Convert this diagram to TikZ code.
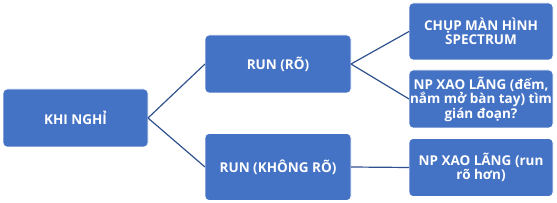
\documentclass[tikz,border=0pt]{standalone}
\usepackage{fontspec}
\setmainfont{Open Sans}
\begin{document}
\begin{tikzpicture}[x=1pt,y=1pt,
  box/.style={draw=white, line width=0.8pt, fill=boxblue, rounded corners=4pt, text=white,
    font=\bfseries\fontsize{13.5}{14.5}\selectfont, align=center, inner sep=0pt, outer sep=0pt},
  link/.style={draw=linkblue, line width=1.2pt}]
\definecolor{boxblue}{HTML}{4472C4}
\definecolor{linkblue}{HTML}{2F528F}
\useasboundingbox (0,0) rectangle (557,203);
\node[box, minimum width=145pt, minimum height=58pt] (a) at (75.5,85) {KHI NGHỈ};
\node[box, minimum width=146pt, minimum height=58pt] (b) at (278,139) {RUN (RÕ)};
\node[box, minimum width=146pt, minimum height=67pt] (c) at (278,36) {RUN (KHÔNG RÕ)};
\node[box, minimum width=144pt, minimum height=57pt] (d) at (481,171.5) {CHỤP MÀN HÌNH\\SPECTRUM};
\node[box, minimum width=144pt, minimum height=58pt] (e) at (481,104) {NP XAO LÃNG (đếm,\\nắm mở bàn tay) tìm\\gián đoạn?};
\node[box, minimum width=144pt, minimum height=58pt] (f) at (481,35.5) {NP XAO LÃNG (run\\rõ hơn)};
\draw[link] (a.east) -- (b.west);
\draw[link] (a.east) -- (c.west);
\draw[link] (b.east) -- (d.west);
\draw[link] (b.east) -- (e.west);
\draw[link] (c.east) -- (f.west);
\end{tikzpicture}
\end{document}
